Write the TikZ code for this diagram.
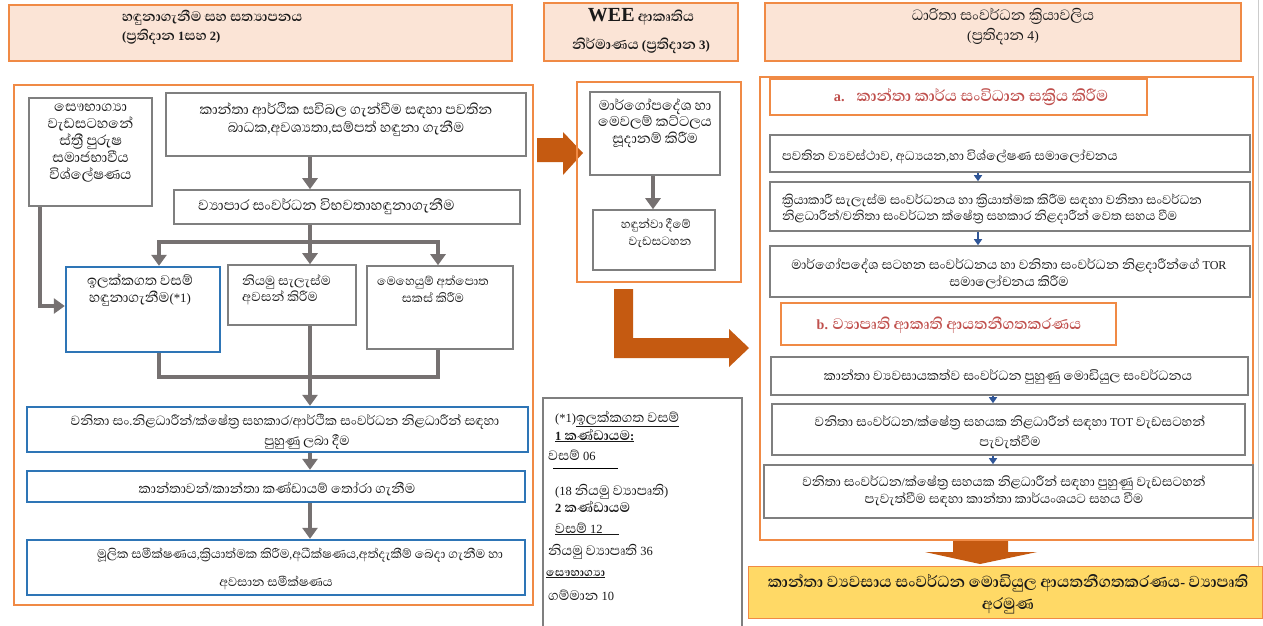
\documentclass[tikz,border=0pt]{standalone}
\usepackage{fontspec}
\setmainfont{Liberation Serif}
\newfontfamily\sinfont{Abhaya Libre}[Script=Sinhala, Scale=1.4]
\newfontfamily\lat{Liberation Serif}
\XeTeXinterchartokenstate=1
\chardef\sinclass=100
\count255="0D80
\loop\ifnum\count255<"0E00
 \XeTeXcharclass\count255=\sinclass
 \advance\count255 by 1
\repeat
\XeTeXcharclass"200D=\sinclass
\XeTeXcharclass"200C=\sinclass
\XeTeXinterchartoks 0 \sinclass={\begingroup\sinfont}
\XeTeXinterchartoks 4095 \sinclass={\begingroup\sinfont}
\XeTeXinterchartoks \sinclass 0={\endgroup}
\XeTeXinterchartoks \sinclass 4095={\endgroup}
\newcommand\fs[2]{\fontsize{#1}{#2}\selectfont}
\usetikzlibrary{arrows.meta}
\definecolor{og}{HTML}{F08A45}
\definecolor{dog}{HTML}{C55A11}
\definecolor{peach}{HTML}{FBE4D6}
\definecolor{gbor}{HTML}{7F7F7F}
\definecolor{garr}{HTML}{767171}
\definecolor{bbor}{HTML}{2E75B6}
\definecolor{dblue}{HTML}{2F5597}
\definecolor{yel}{HTML}{FFD966}
\definecolor{redt}{HTML}{C0504D}
\begin{document}
\begin{tikzpicture}[x=1pt,y=-1pt,
 gbox/.style={draw=gbor, line width=1.6pt, inner sep=0pt},
 bbox/.style={draw=bbor, line width=2.4pt, inner sep=0pt},
 obox/.style={draw=og, line width=1.3pt, inner sep=0pt},
 hdr/.style={draw=og, fill=peach, line width=1.3pt, inner sep=0pt},
 tx/.style={inner sep=0pt, align=center, text=black!90},
 garrow/.style={draw=garr, line width=4.5pt, line join=miter, -{Triangle[width=15pt,length=11pt]}},
 gline/.style={draw=garr, line width=4.5pt},
 barrow/.style={draw=dblue, line width=2.6pt, -{Triangle[width=8pt,length=6pt]}},
 blk/.style={fill=dog, draw=none}]
\useasboundingbox (0,0) rectangle (1263,625);
\fill[white] (0,0) rectangle (1263,625);
\draw[gray!40, line width=0.8pt] (1258,0) -- (1258,566);

% headers
\node[hdr, minimum width=503pt, minimum height=56pt] (h1) at (260.5,33) {};
\node[tx, anchor=west, align=left, font=\bfseries\fs{12.6}{19}] (h1t) at (122,27) {හඳුනාගැනීම සහ සත්‍යාපනය\\(ප්‍රතිදාන 1සහ 2)};
\node[hdr, minimum width=194pt, minimum height=58pt] (h2) at (641,32) {};
\node[tx, font=\bfseries\fs{12.9}{28}] (h2t) at (641,31) {{\fs{20}{22}WEE} ආකෘතිය\\නිර්මාණය (ප්‍රතිදාන 3)};
\node[hdr, minimum width=476pt, minimum height=58pt] (h3) at (1003,32) {};
\node[tx, font=\fs{13.6}{20}] (h3t) at (1003,27) {ධාරිතා සංවර්ධන ක්‍රියාවලිය\\(ප්‍රතිදාන 4)};

% left container
\node[obox, minimum width=519pt, minimum height=520pt] (lc0) at (273.5,345) {};
\node[gbox, minimum width=123pt, minimum height=108pt] (sau) at (90.5,152) {};
\node[tx, font=\fs{13}{17}] (saut) at (90.5,143) {සෞභාග්‍යා\\වැඩසටහනේ\\ස්ත්‍රී පුරුෂ\\සමාජභාවීය\\විශ්ලේෂණය};
\node[gbox, minimum width=360pt, minimum height=63pt] (top) at (346,124.5) {};
\node[tx, font=\fs{12.9}{18}] (topt) at (346,119) {කාන්තා ආර්ථික සවිබල ගැන්වීම සඳහා පවතින\\බාධක,අවශ්‍යතා,සම්පත් හඳුනා ගැනීම};
\node[gbox, minimum width=346pt, minimum height=34pt] (vya) at (347,207) {};
\node[tx, anchor=west, font=\fs{13.3}{16}] (vyat) at (198,207) {ව්‍යාපාර සංවර්ධන විභවතාහඳුනාගැනීම};
\node[bbox, minimum width=154pt, minimum height=85pt] (b1) at (143,309.5) {};
\node[tx, font=\fs{12.8}{17.5}] (b1t) at (140,290) {ඉලක්කගත වසම්\\හඳුනාගැනීම(*1)};
\node[gbox, minimum width=128pt, minimum height=60pt] (b2) at (292,295) {};
\node[tx, anchor=west, align=left, font=\fs{11.9}{16.5}] (b2t) at (242,290) {නියමු සැලැස්ම\\අවසන් කිරීම};
\node[gbox, minimum width=146pt, minimum height=83pt] (b3) at (440,307.5) {};
\node[tx, font=\fs{11.1}{17}] (b3t) at (433,289) {මෙහෙයුම් අත්පොත\\සකස් කිරීම};
\node[bbox, minimum width=501pt, minimum height=45pt] (bA) at (277.5,429.5) {};
\node[tx, font=\fs{12.1}{20}] (bAt) at (285,432) {වනිතා සං.නිළධාරීන්/ක්ෂේත්‍ර සහකාර/ආර්ථික සංවර්ධන නිළධාරීන් සඳහා\\\hspace*{44pt}පුහුණු ලබා දීම};
\node[bbox, minimum width=498pt, minimum height=31pt] (bB) at (276,486.5) {};
\node[tx, font=\fs{12.4}{16}] (bBt) at (277,489) {කාන්තාවන්/කාන්තා කණ්ඩායම් තෝරා ගැනීම};
\node[bbox, minimum width=498pt, minimum height=55pt] (bC) at (276,567.5) {};
\node[tx, font=\fs{11.5}{28}] (bCt) at (300,569) {මූලික සමීක්ෂණය,ක්‍රියාත්මක කිරීම,අධීක්ෂණය,අත්දැකීම් බෙදා ගැනීම හා\\අවසාන සමීක්ෂණය\hspace*{48pt}};

% left connectors
\coordinate (j1) at (310,242);
\coordinate (j1l) at (159,242);
\coordinate (j1r) at (438,242);
\coordinate (j2) at (310,377);
\coordinate (j2l) at (159,377);
\coordinate (j2r) at (438,377);
\coordinate (lk) at (40,306);
\draw[garrow] (top.south -| j1) -- (vya.north -| j1);
\draw[gline] (vya.south -| j1) -- (j1);
\draw[gline, line cap=rect] (j1l) -- (j1r);
\draw[garrow] (j1l) -- (b1.north -| j1l);
\draw[garrow] (j1) -- (b2.north -| j1);
\draw[garrow] (j1r) -- (b3.north -| j1r);
\draw[garrow] (sau.south -| lk) -- (lk) -- (b1.west |- lk);
\draw[gline] (b1.south -| j2l) -- (j2l);
\draw[gline] (b2.south -| j2) -- (j2);
\draw[gline] (b3.south -| j2r) -- (j2r);
\draw[gline, line cap=rect] (j2l) -- (j2r);
\draw[garrow] (j2) -- (bA.north -| j2);
\draw[garrow] (bA.south -| j2) -- (bB.north -| j2);
\draw[garrow] (bB.south -| j2) -- (bC.north -| j2);

% middle
\fill[blk] (537,138) -- (563,138) -- (563,132) -- (583,153) -- (563,175) -- (563,162) -- (537,162) -- cycle;
\node[obox, minimum width=164pt, minimum height=200pt] (mc) at (659,182) {};
\node[gbox, minimum width=130pt, minimum height=83pt] (m1) at (655,133.5) {};
\node[tx, font=\fs{12.9}{16.5}] (m1t) at (655,123) {මාර්ගෝපදේශ හා\\මෙවලම් කට්ටලය\\සූදානම් කිරීම};
\node[gbox, minimum width=122pt, minimum height=60pt] (m2) at (654,240) {};
\node[tx, font=\fs{10.9}{17}] (m2t) at (656,233) {හඳුන්වා දීමේ\\\hspace{8pt}වැඩසටහන};
\coordinate (mx) at (653,0);
\draw[garrow] (m1.south -| mx) -- (m2.north -| mx);
\fill[blk] (614,289) -- (633,289) -- (633,338) -- (729,338) -- (729,329) -- (749,348) -- (729,367) -- (729,358) -- (614,358) -- cycle;

% note box
\node[draw=gbor, line width=1.2pt, minimum width=199pt, minimum height=230pt, inner sep=0pt] (nb) at (642.5,513) {};
\begin{scope}[every node/.style={inner sep=0pt, anchor=base west, text=black!90, font=\fs{12.5}{14}}]
\node (n1) at (555,422) {(*1)\underline{ඉලක්කගත වසම්}};
\node (n2) at (555,440) {\bfseries\underline{1 කණ්ඩායම:}};
\node (n3) at (548,460) {වසම් 06};
\node (n5) at (555,495) {(18 නියමු ව්‍යාපෘති)};
\node (n6) at (555,512) {\bfseries 2 කණ්ඩායම};
\node (n7) at (555,533) {\underline{වසම් 12\hspace{16pt}}};
\node (n8) at (548,555) {නියමු ව්‍යාපෘති 36};
\node[font=\bfseries\fs{10.5}{12}] (n9) at (546,576) {\underline{සෞභාග්‍යා}};
\node (n10) at (548,600) {ගම්මාන 10};
\end{scope}
\coordinate (ul1) at (553,468);
\coordinate (ul2) at (618,468);
\draw[black, line width=0.6pt] (ul1) -- (ul2);

% right container
\node[obox, minimum width=493pt, minimum height=463pt] (rc) at (1006.5,308.5) {};
\node[draw=og, line width=2pt, minimum width=377pt, minimum height=36pt, inner sep=0pt] (aH) at (958.5,97) {};
\node[tx, text=redt, font=\bfseries\fs{14.3}{16}] (aHt) at (971,97) {a.\hspace{12pt}කාන්තා කාර්ය සංවිධාන සක්‍රිය කිරීම};
\node[gbox, minimum width=480pt, minimum height=37pt] (r1) at (1010,153.5) {};
\node[tx, anchor=west, font=\fs{11.8}{16}] (r1t) at (782,157) {පවතින ව්‍යවස්ථාව, අධ්‍යයන,හා විශ්ලේෂණ සමාලෝචනය};
\node[gbox, minimum width=480pt, minimum height=49pt] (r2) at (1010,206.5) {};
\node[tx, anchor=west, align=left, font=\fs{11.6}{16}] (r2t) at (782,209) {ක්‍රියාකාරී සැලැස්ම සංවර්ධනය හා ක්‍රියාත්මක කිරීම සඳහා වනිතා සංවර්ධන\\නිළධාරීන්/වනිතා සංවර්ධන ක්ෂේත්‍ර සහකාර නිළදාරීන් වෙත සහය වීම};
\node[gbox, minimum width=480pt, minimum height=51pt] (r3) at (1010,271.5) {};
\node[tx, font=\fs{12.1}{17}] (r3t) at (1009,273.5) {මාර්ගෝපදේශ සටහන සංවර්ධනය හා වනිතා සංවර්ධන නිළදාරීන්ගේ TOR\\සමාලෝචනය කිරීම};
\node[draw=og, line width=2pt, minimum width=335pt, minimum height=42pt, inner sep=0pt] (bH) at (948.5,324) {};
\node[tx, text=redt, font=\bfseries\fs{14}{16}] (bHt) at (949,325) {b. ව්‍යාපෘති ආකෘති ආයතනීගතකරණය};
\node[gbox, minimum width=477pt, minimum height=38pt] (r4) at (1009.5,376) {};
\node[tx, font=\fs{12.1}{16}] (r4t) at (1008,377) {කාන්තා ව්‍යවසායකත්ව සංවර්ධන පුහුණු මොඩියුල සංවර්ධනය};
\node[gbox, minimum width=473pt, minimum height=51pt] (r5) at (1008.5,429.5) {};
\node[tx, font=\fs{12}{20}] (r5t) at (1010,432) {වනිතා සංවර්ධන/ක්ෂේත්‍ර සහයක නිළධාරීන් සඳහා TOT වැඩසටහන්\\පැවැත්වීම};
\node[gbox, minimum width=489pt, minimum height=53pt] (r6) at (1008.5,491.5) {};
\node[tx, font=\fs{12}{17}] (r6t) at (1004,491.5) {වනිතා සංවර්ධන/ක්ෂේත්‍ර සහයක නිළධාරීන් සඳහා පුහුණු වැඩසටහන්\\පැවැත්වීම සඳහා කාන්තා කාර්යංශයට සහය වීම};
\coordinate (rx1) at (978,0);
\coordinate (rx2) at (993,0);
\draw[barrow] (r1.south -| rx1) -- (r2.north -| rx1);
\draw[barrow] (r2.south -| rx1) -- (r3.north -| rx1);
\draw[barrow] (r4.south -| rx2) -- (r5.north -| rx2);
\draw[barrow] (r5.south -| rx2) -- (r6.north -| rx2);

% bottom
\fill[blk] (953,541) -- (1008,541) -- (1008,552) -- (1037,552) -- (980,564) -- (925,552) -- (953,552) -- cycle;
\node[draw=og, fill=yel, line width=1pt, minimum width=514pt, minimum height=52pt, inner sep=0pt] (yb) at (1005,592) {};
\node[tx, font=\bfseries\fs{14.5}{22}] (ybt) at (1008,594) {කාන්තා ව්‍යවසාය සංවර්ධන මොඩියුල ආයතනීගතකරණය- ව්‍යාපෘති\\අරමුණ};
\end{tikzpicture}
\end{document}
